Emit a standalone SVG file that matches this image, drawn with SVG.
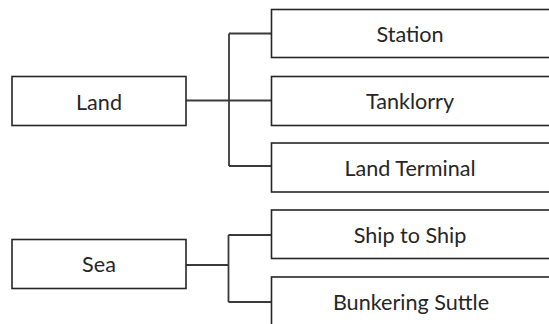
<svg xmlns="http://www.w3.org/2000/svg" width="549" height="324" viewBox="0 0 549 324">
  <style>
    .box { fill: #ffffff; stroke: #262626; stroke-width: 1.6; }
    .lbl { font-family: Lato, "Open Sans", "Liberation Sans", sans-serif; font-size: 21.6px; fill: #262626; text-anchor: middle; }
    .link { fill: none; stroke: #3a3a3a; stroke-width: 1.8; }
  </style>
  <rect width="549" height="324" fill="#ffffff"/>

  <!-- tree connectors -->
  <g id="connectors">
    <path class="link" d="M186 100.5 H229 M229 33.5 V166 M229 33.5 H271.5 M229 100.5 H271.5 M229 166 H271.5"/>
    <path class="link" d="M186 265 H228.5 M228.5 235 V302 M228.5 235 H271.5 M228.5 302 H271.5"/>
  </g>

  <!-- root categories -->
  <g id="land">
    <rect class="box" x="12" y="76.5" width="174" height="49"/>
    <text class="lbl" x="99" y="109.5">Land</text>
  </g>
  <g id="sea">
    <rect class="box" x="12" y="239.5" width="174" height="49"/>
    <text class="lbl" x="99" y="272">Sea</text>
  </g>

  <!-- land branches -->
  <g id="station">
    <rect class="box" x="271.5" y="9.5" width="290" height="48"/>
    <text class="lbl" x="410" y="42">Station</text>
  </g>
  <g id="tanklorry">
    <rect class="box" x="271.5" y="76.5" width="290" height="49"/>
    <text class="lbl" x="410" y="109">Tanklorry</text>
  </g>
  <g id="land-terminal">
    <rect class="box" x="271.5" y="143" width="290" height="49"/>
    <text class="lbl" x="410" y="175.5">Land Terminal</text>
  </g>

  <!-- sea branches -->
  <g id="ship-to-ship">
    <rect class="box" x="271.5" y="210" width="290" height="48.5"/>
    <text class="lbl" x="410" y="242.5">Ship to Ship</text>
  </g>
  <g id="bunkering-suttle">
    <rect class="box" x="271.5" y="277" width="290" height="49"/>
    <text class="lbl" x="411" y="310">Bunkering Suttle</text>
  </g>
</svg>
